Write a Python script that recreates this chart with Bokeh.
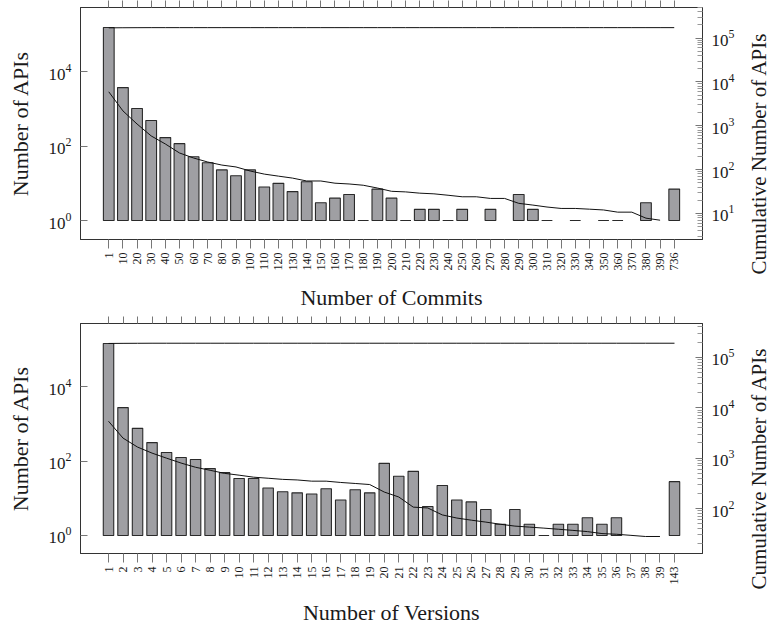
import math
from bokeh.plotting import figure
from bokeh.models import Range1d, LogAxis, LinearAxis, FixedTicker, LogScale, ColumnDataSource, Spacer
from bokeh.layouts import column, row
from bokeh.embed import file_html
from bokeh.resources import INLINE

# ---------------- data ----------------
commit_labels = ["1", "10", "20", "30", "40", "50", "60", "70", "80", "90", "100",
                 "110", "120", "130", "140", "150", "160", "170", "180", "190", "200",
                 "210", "220", "230", "240", "250", "260", "270", "280", "290", "300",
                 "310", "320", "330", "340", "350", "360", "370", "380", "390", "736"]
commit_counts = [155000, 3760, 1030, 490, 170, 117, 52, 36, 23, 16, 23,
                 8, 10, 6, 11, 3, 4, 5, 1, 7, 4,
                 1, 2, 2, 1, 2, 0, 2, 0, 5, 2,
                 1, 0, 1, 0, 1, 1, 0, 3, 0, 7]
commit_cum_total = [172000, 173000, 173500, 174000, 174000, 174000, 174000, 174000, 174000, 174000, 174000,
                    174000, 174000, 174000, 174000, 174000, 174000, 174000, 174000, 174000, 174000,
                    174000, 174000, 174000, 174000, 174000, 174000, 174000, 174000, 174000, 174000,
                    174000, 174000, 174000, 174000, 174000, 174000, 174000, 174000, 174000, 174000]
commit_tail = [5970, 2190, 1100, 587, 385, 240, 184, 149, 127, 115, 93,
               79, 71, 64, 55, 55, 49, 47, 44, 38, 32,
               31, 29, 28, 26, 24, 24, 22, 22, 17, 15.5,
               14, 13, 13, 12.5, 12, 10.7, 10.7, 7.8, 7.0, None]

version_labels = [str(i) for i in range(1, 40)] + ["143"]
version_counts = [145000, 2750, 760, 315, 170, 125, 110, 63, 49, 34,
                  34, 19, 15, 14, 13, 18, 9, 17, 14, 87,
                  39, 53, 6, 22, 9, 8, 5, 2, 5, 2,
                  1, 2, 2, 3, 2, 3, 0, 0, 0, 28]
version_cum_total = [188000, 189000, 189500, 190000, 190000, 190000, 190000, 190000, 190000, 190000,
                     190000, 190000, 190000, 190000, 190000, 190000, 190000, 190000, 190000, 190000,
                     190000, 190000, 190000, 190000, 190000, 190000, 190000, 190000, 190000, 190000,
                     190000, 190000, 190000, 190000, 190000, 190000, 190000, 190000, 190000, 190000]
version_tail = [5400, 2500, 1660, 1260, 1000, 800, 660, 575, 500, 460,
                420, 400, 380, 370, 350, 350, 330, 315, 300, 213,
                170, 107, 103, 75, 65, 59, 54, 49, 45, 43,
                41, 39, 37, 35, 32, 31, 29.5, 28, 28, None]

left_ticks = [1, 100, 10000]
commit_right_ticks = [10, 100, 1000, 10000, 100000]
version_right_ticks = [100, 1000, 10000, 100000]

FONT = "Liberation Serif"
TXT = "#1a1a1a"
BAR_FILL = "#9f9fa3"
BAR_LINE = "#2a2a2a"
MAIN_W = 744
SIDE_W = 26


def minor_list():
    return [m * 10 ** e for e in range(-1, 7) for m in range(2, 10)]


def make_panel(labels, counts, cum_total, tail, xlabel, x_rng, left_rng, right_rng,
               right_ticks, bar_w, height, b_top, b_bottom, xlab_standoff):
    n = len(labels)
    p = figure(width=MAIN_W, height=height, x_range=Range1d(*x_rng),
               y_range=Range1d(10 ** left_rng[0], 10 ** left_rng[1]), y_axis_type="log",
               output_backend="svg", toolbar_location=None,
               min_border_left=80, min_border_right=MAIN_W - 702, min_border_top=b_top,
               min_border_bottom=b_bottom)
    p.extra_y_ranges = {"cum": Range1d(10 ** right_rng[0], 10 ** right_rng[1])}
    p.extra_y_scales = {"cum": LogScale()}
    p.grid.visible = False
    p.outline_line_color = "#333333"
    p.outline_line_width = 1
    p.background_fill_color = "white"
    p.border_fill_color = "white"

    xs = [i for i in range(n) if counts[i] > 0]
    src = ColumnDataSource(dict(x=xs, top=[counts[i] for i in xs], bottom=[1] * len(xs)))
    p.vbar(x="x", top="top", bottom="bottom", width=bar_w, source=src,
           fill_color=BAR_FILL, line_color=BAR_LINE, line_width=1.1)

    p.line(list(range(n)), cum_total, y_range_name="cum", line_color="#111111", line_width=1)
    tx = [i for i in range(n) if tail[i] is not None]
    p.line(tx, [tail[i] for i in tx], y_range_name="cum", line_color="#111111", line_width=1)

    # bottom x axis
    xa = p.xaxis[0]
    xa.ticker = FixedTicker(ticks=list(range(n)))
    xa.major_label_overrides = {i: labels[i] for i in range(n)}
    xa.major_label_orientation = math.pi / 2
    xa.major_label_text_font = FONT
    xa.major_label_text_font_size = "12px"
    xa.major_label_text_color = TXT
    xa.major_tick_in = 0
    xa.major_tick_out = 9
    xa.minor_tick_line_color = None
    xa.major_label_standoff = 4
    xa.axis_label = xlabel
    xa.axis_label_text_font = FONT
    xa.axis_label_text_font_size = "22px"
    xa.axis_label_text_font_style = "normal"
    xa.axis_label_text_color = TXT
    xa.axis_label_standoff = xlab_standoff
    xa.axis_line_color = "#333333"
    xa.major_tick_line_color = "#777777"

    # top x axis (ticks only)
    ta = LinearAxis(ticker=FixedTicker(ticks=list(range(n))))
    ta.major_label_overrides = {i: "" for i in range(n)}
    ta.major_label_standoff = 0
    ta.major_label_text_font_size = "1px"
    ta.major_tick_in = 0
    ta.major_tick_out = 7
    ta.minor_tick_line_color = None
    ta.axis_line_color = "#333333"
    ta.major_tick_line_color = "#777777"
    p.add_layout(ta, "above")

    # left y axis
    ya = p.yaxis[0]
    ya.ticker = FixedTicker(ticks=left_ticks, minor_ticks=[])
    ya.major_tick_in = 7
    ya.major_tick_out = 0
    ya.minor_tick_line_color = None
    ya.major_label_text_font = FONT
    ya.major_label_text_font_size = "17px"
    ya.major_label_text_color = TXT
    ya.major_label_standoff = 9
    ya.axis_label = "Number of APIs"
    ya.axis_label_text_font = FONT
    ya.axis_label_text_font_size = "22px"
    ya.axis_label_text_font_style = "normal"
    ya.axis_label_text_color = TXT
    ya.axis_label_standoff = 13
    ya.axis_line_color = "#333333"
    ya.major_tick_line_color = "#777777"

    # right y axis (label drawn by the side panel figure)
    ra = LogAxis(y_range_name="cum", ticker=FixedTicker(ticks=right_ticks, minor_ticks=minor_list()))
    ra.major_tick_in = 7
    ra.major_tick_out = 0
    ra.minor_tick_in = 5
    ra.minor_tick_out = 0
    ra.major_label_text_font = FONT
    ra.major_label_text_font_size = "17px"
    ra.major_label_text_color = TXT
    ra.major_label_standoff = 9
    ra.axis_line_color = "#333333"
    ra.major_tick_line_color = "#777777"
    ra.minor_tick_line_color = "#999999"
    p.add_layout(ra, "right")
    return p


def side_label(height, b_top, b_bottom):
    h = figure(width=SIDE_W, height=height, output_backend="svg", toolbar_location=None,
               x_range=Range1d(0, 1), y_range=Range1d(0, 1),
               x_axis_location=None, y_axis_location="left",
               min_border_left=0, min_border_right=0, min_border_top=b_top, min_border_bottom=b_bottom)
    h.outline_line_color = None
    h.grid.visible = False
    h.border_fill_color = "white"
    h.background_fill_color = "white"
    ax = h.yaxis[0]
    ax.ticker = FixedTicker(ticks=[])
    ax.axis_line_color = None
    ax.major_tick_line_color = None
    ax.minor_tick_line_color = None
    ax.major_label_standoff = 0
    ax.major_tick_in = 0
    ax.major_tick_out = 0
    ax.axis_label = "Cumulative Number of APIs"
    ax.axis_label_text_font = FONT
    ax.axis_label_text_font_size = "21px"
    ax.axis_label_text_font_style = "normal"
    ax.axis_label_text_color = TXT
    ax.axis_label_standoff = 0
    return h


p1 = make_panel(commit_labels, commit_counts, commit_cum_total, commit_tail, "Number of Commits",
                (-2.0, 42.0), (-0.51, 5.73), (0.405, 5.70), commit_right_ticks, 0.76, 314, 7, 75, 11)
p2 = make_panel(version_labels, version_counts, version_cum_total, version_tail, "Number of Versions",
                (-1.93, 40.93), (-0.484, 5.70), (1.11, 5.67), version_right_ticks, 0.72, 313, 9, 74, 12)
h1 = side_label(284, 0, 38)
h2 = side_label(283, 0, 35)

side1 = column(Spacer(width=SIDE_W, height=30), h1, spacing=0)
side2 = column(Spacer(width=SIDE_W, height=30), h2, spacing=0)

layout = column(row(p1, side1, spacing=0), row(p2, side2, spacing=0), spacing=0,
                styles={"position": "absolute", "top": "0px", "left": "0px"})

open("out.html", "w").write(file_html(layout, INLINE))
